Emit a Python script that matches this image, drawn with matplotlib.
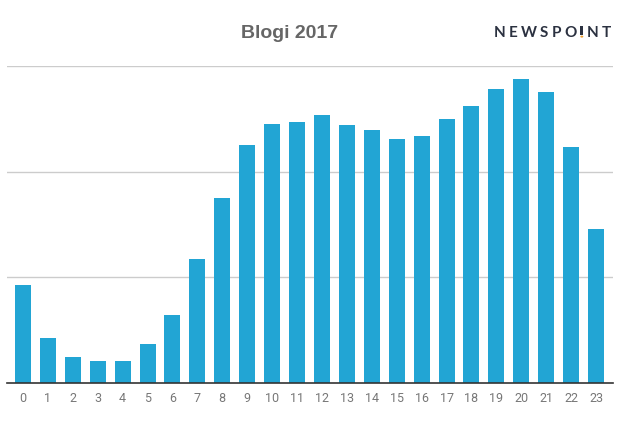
import matplotlib
matplotlib.use("Agg")
import matplotlib.pyplot as plt
from matplotlib.patches import Rectangle, Circle

hours = [str(h) for h in range(24)]
visits = [93, 43, 25, 21, 21, 37, 64, 117, 175, 225, 245, 247, 254, 244,
          239, 231, 234, 250, 262, 278, 288, 275, 223, 146]
grid_values = [100, 200, 300]
title = "Blogi 2017"
brand = "NEWSPO!NT"

W, H = 635, 427
fig = plt.figure(figsize=(W / 100, H / 100), dpi=100)
ax = fig.add_axes([7 / W, 1 - 384 / H, (613 - 7) / W, (384 - 67) / H])

x = list(range(len(hours)))
ax.bar(x, visits, width=0.64, color="#22a5d4", zorder=2)
ax.set_xlim(-0.64, 23.68)
ax.set_ylim(0, 300)
ax.set_xticks(x)
ax.set_xticklabels(hours, fontsize=9, color="#777777", family="Roboto")
ax.tick_params(axis="x", length=0, pad=6)
ax.set_yticks([])
for v in grid_values:
    ax.axhline(v, color="#cccccc", lw=1, zorder=1)
for s in ["top", "right", "left"]:
    ax.spines[s].set_visible(False)
ax.spines["bottom"].set_color("#333333")
ax.spines["bottom"].set_linewidth(1.2)
ax.spines["bottom"].set_zorder(3)

fig.text(290 / W, 1 - 33 / H, title, ha="center", va="center", fontsize=14,
         fontweight="bold", color="#666666", family="Liberation Sans")

# brand logo with letter tracking
renderer = fig.canvas.get_renderer()
xpos = 494.0
track = 3.2
brand_y = 1 - 33 / H
dark = "#2b3140"
for ch in brand:
    if ch == "!":
        w = 4.0
        cx = xpos + w / 2
        fig.add_artist(Rectangle(((cx - 1.4) / W, 1 - 35.5 / H), 2.8 / W, 8.2 / H,
                                 transform=fig.transFigure, color=dark, lw=0))
        fig.add_artist(Circle((cx / W, 1 - 37.6 / H), 1.5 / W,
                              transform=fig.transFigure, color="#f0a030", lw=0))
        xpos += w + track
        continue
    t = fig.text(xpos / W, brand_y, ch, ha="left", va="center", fontsize=11,
                 fontweight="bold", color=dark, family="Lato")
    bb = t.get_window_extent(renderer)
    xpos += bb.width + track

fig.savefig("out.png", dpi=100)
